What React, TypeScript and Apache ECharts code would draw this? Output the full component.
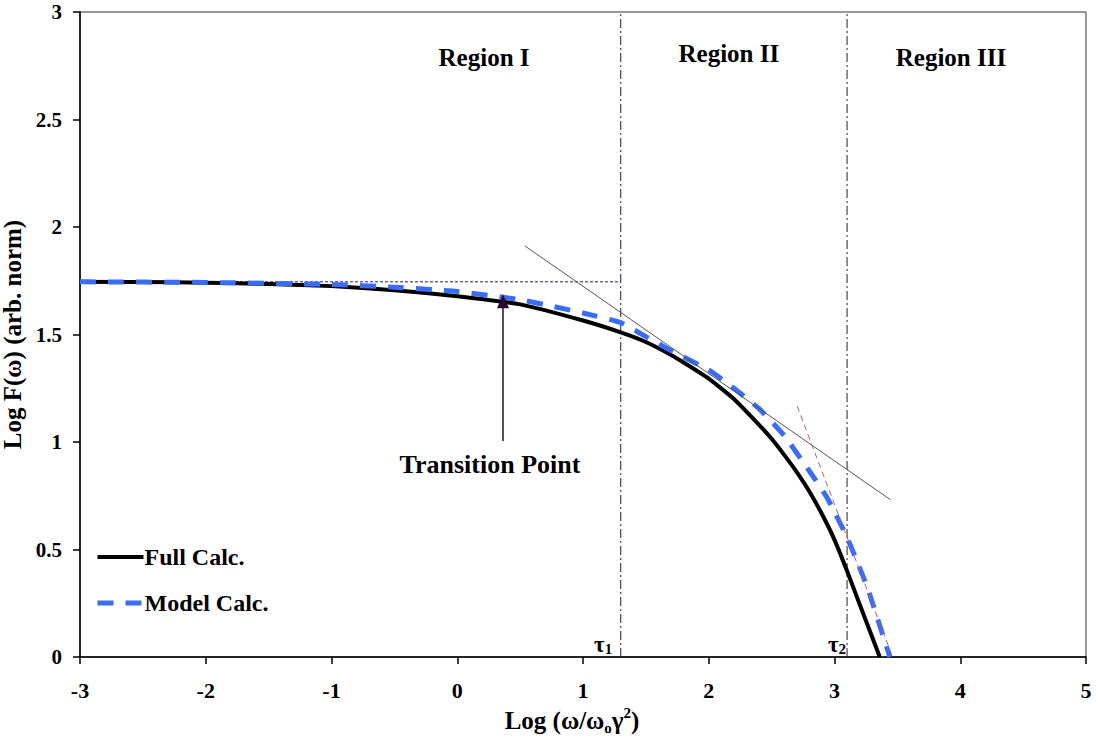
import React, { useEffect, useRef } from "react";
import * as echarts from "echarts";

// Full calculation curve (log-log)
const fullX = [-3, -2.5, -2, -1.5, -1, -0.5, 0, 0.5, 1, 1.3, 1.5, 1.7, 1.8, 2, 2.2, 2.4, 2.5, 2.6, 2.7, 2.8, 2.9, 3.0, 3.1, 3.2, 3.36];
const fullY = [1.745, 1.744, 1.741, 1.735, 1.725, 1.706, 1.678, 1.64, 1.565, 1.51, 1.465, 1.405, 1.37, 1.295, 1.2, 1.08, 1.015, 0.94, 0.86, 0.77, 0.665, 0.545, 0.4, 0.245, 0];

// Model calculation curve
const modelX = [-3, -2, -1, -0.5, 0, 0.5, 1, 1.3, 1.5, 1.7, 2, 2.2, 2.4, 2.6, 2.8, 2.94, 3.1, 3.26, 3.44];
const modelY = [1.745, 1.742, 1.733, 1.72, 1.7, 1.662, 1.6, 1.555, 1.49, 1.425, 1.335, 1.25, 1.155, 1.03, 0.865, 0.742, 0.556, 0.325, 0];

// Plateau reference level, drawn up to tau1
const plateauX = [-3, 1.3];
const plateauY = [1.745, 1.745];

// Asymptotic slopes
const slope1X = [0.538, 3.446];
const slope1Y = [1.912, 0.731];
const slope2X = [2.703, 3.462];
const slope2Y = [1.167, 0];

// Region boundaries
const tauX = [1.3, 3.1];
const tauNames = ["1", "2"];

// Transition point arrow
const arrowX = 0.364;
const arrowFromY = 1.005;
const arrowToY = 1.655;

const xTicks = { min: -3, max: 5, interval: 1 };
const yTicks = { min: 0, max: 3, interval: 0.5 };

const regionLabels = [
  { text: "Region I", x: 0.213, y: 2.79 },
  { text: "Region II", x: 2.16, y: 2.805 },
  { text: "Region III", x: 3.926, y: 2.79 },
];
const transitionLabel = { text: "Transition Point", x: 0.26, y: 0.895 };
const tauLabelPos = [
  { x: 1.16, y: 0.056 },
  { x: 3.02, y: 0.056 },
];

const FONT = "'Liberation Serif', 'Times New Roman', serif";
const BLUE = "#3a6cf4";
const BLUE_DASH = [16, 12];

const zip = (xs: number[], ys: number[]) => xs.map((x, i) => [x, ys[i]]);

export default function App() {
  const ref = useRef<HTMLDivElement>(null);

  useEffect(() => {
    document.body.style.margin = "0";
    if (!ref.current) return;
    const chart = echarts.init(ref.current, null, { renderer: "svg" });

    const annotationData: any[] = [
      ...regionLabels.map((r) => ({
        value: [r.x, r.y],
        label: { formatter: r.text, fontSize: 25 },
      })),
      {
        value: [transitionLabel.x, transitionLabel.y],
        label: { formatter: transitionLabel.text, fontSize: 26 },
      },
      ...tauLabelPos.map((p, i) => ({
        value: [p.x, p.y],
        label: {
          formatter: `{m|τ}{s|${tauNames[i]}}`,
          rich: {
            m: { fontSize: 23, fontWeight: "bold", fontFamily: FONT, color: "#000", lineHeight: 24 },
            s: { fontSize: 15, fontWeight: "bold", fontFamily: FONT, color: "#000", verticalAlign: "bottom", lineHeight: 24 },
          },
        },
      })),
    ];

    const series: any[] = [
      ...tauX.map((t) => ({
        type: "line",
        data: [[t, yTicks.min], [t, yTicks.max]],
        symbol: "none",
        silent: true,
        lineStyle: { color: "#222", width: 1, type: [9, 3, 2, 3] },
        z: 1,
      })),
      {
        type: "line",
        data: zip(plateauX, plateauY),
        symbol: "none",
        silent: true,
        lineStyle: { color: "#1c1c80", width: 1, type: [3, 2] },
        z: 2,
      },
      {
        name: "Full Calc.",
        type: "line",
        data: zip(fullX, fullY),
        symbol: "none",
        smooth: 0.15,
        lineStyle: { color: "#000", width: 4 },
        itemStyle: { color: "#000" },
        z: 3,
      },
      {
        name: "Model Calc.",
        type: "line",
        data: zip(modelX, modelY),
        symbol: "none",
        smooth: 0.15,
        lineStyle: { color: BLUE, width: 5, type: BLUE_DASH },
        itemStyle: { color: BLUE },
        z: 4,
      },
      {
        type: "line",
        data: zip(slope1X, slope1Y),
        symbol: "none",
        silent: true,
        lineStyle: { color: "#555", width: 1 },
        z: 5,
      },
      {
        type: "line",
        data: zip(slope2X, slope2Y),
        symbol: "none",
        silent: true,
        lineStyle: { color: "#b0607c", width: 1, type: [6, 4] },
        z: 5,
      },
      {
        type: "line",
        data: [],
        symbol: "none",
        silent: true,
        markLine: {
          silent: true,
          symbol: ["none", "triangle"],
          symbolSize: [12, 14],
          label: { show: false },
          lineStyle: { color: "#2a0a2a", width: 1.5, type: "solid" },
          data: [[{ coord: [arrowX, arrowFromY] }, { coord: [arrowX, arrowToY] }]],
        },
        z: 6,
      },
      {
        type: "scatter",
        symbolSize: 0,
        silent: true,
        itemStyle: { opacity: 1, color: "rgba(0,0,0,0)" },
        data: annotationData,
        label: {
          show: true,
          position: "inside",
          color: "#000",
          opacity: 1,
          fontWeight: "bold",
          fontFamily: FONT,
        },
        z: 7,
      },
    ];

    chart.setOption({
      animation: false,
      textStyle: { fontFamily: FONT },
      grid: {
        left: 80,
        right: 11,
        top: 12,
        bottom: 85,
        outerBoundsMode: "none",
        containLabel: false,
        show: true,
        borderColor: "#333",
        borderWidth: 1,
      },
      legend: {
        data: [
          { name: "Full Calc.", itemStyle: { opacity: 0 }, lineStyle: { color: "#000", width: 4 } },
          { name: "Model Calc.", itemStyle: { opacity: 0 }, lineStyle: { color: BLUE, width: 5, type: BLUE_DASH } },
        ],
        orient: "vertical",
        left: 95,
        top: 545,
        itemWidth: 46,
        itemHeight: 14,
        itemGap: 22,
        padding: 0,
        itemStyle: { opacity: 0 },
        textStyle: { fontFamily: FONT, fontWeight: "bold", fontSize: 24, color: "#000", padding: [0, 0, 0, -4] },
      },
      xAxis: {
        type: "value",
        min: xTicks.min,
        max: xTicks.max,
        interval: xTicks.interval,
        name: "{m|Log (ω/ω}{s|o}{m|γ}{p|2}{m|)}",
        nameLocation: "middle",
        nameGap: 48,
        nameTextStyle: {
          padding: [0, 22, 0, 0],
          rich: {
            m: { fontSize: 25, fontWeight: "bold", fontFamily: FONT, color: "#000", lineHeight: 30 },
            s: { fontSize: 15, fontWeight: "bold", fontFamily: FONT, color: "#000", verticalAlign: "bottom", lineHeight: 30 },
            p: { fontSize: 15, fontWeight: "bold", fontFamily: FONT, color: "#000", verticalAlign: "top", lineHeight: 30 },
          },
        },
        splitLine: { show: false },
        axisLine: { show: true, onZero: false, lineStyle: { color: "#000", width: 1.5 } },
        axisTick: { show: true, inside: false, length: 7, lineStyle: { color: "#000", width: 1.5 } },
        axisLabel: { color: "#000", fontSize: 22, fontWeight: "bold", fontFamily: FONT, margin: 22 },
      },
      yAxis: {
        type: "value",
        min: yTicks.min,
        max: yTicks.max,
        interval: yTicks.interval,
        name: "Log F(ω) (arb. norm)",
        nameLocation: "middle",
        nameGap: 49,
        nameTextStyle: { fontSize: 25, lineHeight: 24, fontWeight: "bold", fontFamily: FONT, color: "#000" },
        splitLine: { show: false },
        axisLine: { show: true, onZero: false, lineStyle: { color: "#000", width: 1.5 } },
        axisTick: { show: true, inside: false, length: 7, lineStyle: { color: "#000", width: 1.5 } },
        axisLabel: { color: "#000", fontSize: 21, lineHeight: 16, fontWeight: "bold", fontFamily: FONT, margin: 18 },
      },
      series,
    });

    return () => chart.dispose();
  }, []);

  return <div ref={ref} style={{ width: 1097, height: 742 }} />;
}
